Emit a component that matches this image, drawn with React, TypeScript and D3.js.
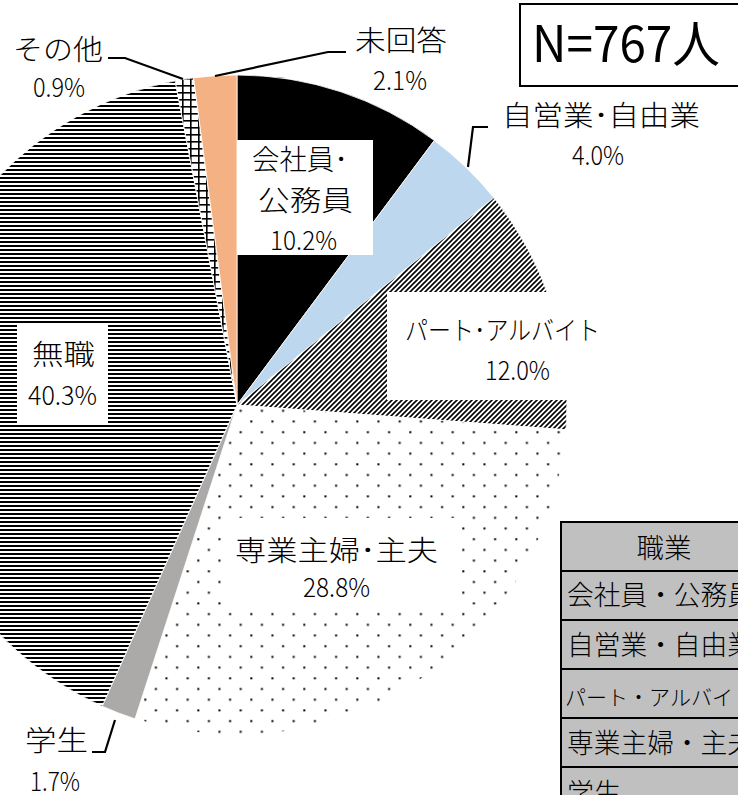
import React from 'react';
import * as d3 from 'd3';

// ---- data ----
const categories = ['会社員・公務員', '自営業・自由業', 'パート・アルバイト', '専業主婦・主夫', '学生', '無職', 'その他', '未回答'];
const shares = [10.2, 4.0, 12.0, 28.8, 1.7, 40.3, 0.9, 2.1];
const percentLabels = ['10.2%', '4.0%', '12.0%', '28.8%', '1.7%', '40.3%', '0.9%', '2.1%'];
const labelLines = [['会社員･', '公務員'], ['自営業･自由業'], ['パート･アルバイト'], ['専業主婦･主夫'], ['学生'], ['無職'], ['その他'], ['未回答']];
const tableHeader = '職業';
const tableRows = ['会社員・公務員', '自営業・自由業', 'パート・アルバイト', '専業主婦・主夫', '学生'];
const totalLabel = 'N=767人';

// ---- styling / layout ----
const W = 738, H = 795;
const CX = 237, CY = 405, R = 330;
const FONT = '"Noto Sans CJK JP", "Noto Sans", sans-serif';
const fills = ['#000000', '#bdd7ee', 'url(#hatch)', 'url(#dots)', '#aca9a9', 'url(#hlines)', 'url(#grid)', '#f4b183'];

type L = [number, number, number, number];
const labelLayout: { lines: L[]; pct: L; box?: [number, number, number, number]; leader?: [number, number][] }[] = [
  { lines: [[252, 170, 96, 28], [258, 211, 95, 28]], pct: [270, 250, 67, 26], box: [237, 140, 136, 115] },
  { lines: [[502, 126, 198, 28]], pct: [572, 165, 52, 26], leader: [[468, 167], [473, 127], [488, 127]] },
  { lines: [[405, 340, 195, 26]], pct: [485, 380, 65, 26], box: [387, 292, 220, 108] },
  { lines: [[235, 561, 203, 28]], pct: [303, 597, 67, 26], box: [222, 518, 233, 94] },
  { lines: [[25, 751, 63, 28]], pct: [30, 791, 50, 26], leader: [[115, 720], [105, 752], [92, 752]] },
  { lines: [[32, 365, 63, 28]], pct: [28, 405, 69, 26], box: [17, 323, 91, 102] },
  { lines: [[13, 60, 90, 28]], pct: [33, 97, 52, 26], leader: [[108, 58], [125, 58], [183, 79]] },
  { lines: [[355, 51, 92, 28]], pct: [373, 90, 54, 26], leader: [[215, 76], [328, 52], [346, 52]] },
];

const tableX = 561, tableY = 522, rowH = 49, tableW = 210;
const tableTextLayout: [number, number, number, number][] = [
  [567, 605, 187, 27],
  [567, 655, 187, 27],
  [565, 705, 189, 21],
  [567, 753, 187, 27],
  [567, 803, 54, 27],
];

function T({ s, l, anchor }: { s: string; l: L; anchor?: string }) {
  return (
    <text x={l[0]} y={l[1]} textLength={l[2]} lengthAdjust="spacingAndGlyphs"
      fontSize={l[3]} fontFamily={FONT} fontWeight={300} fill="#000" textAnchor={anchor || 'start'}>{s}</text>
  );
}

export default function App() {
  const pie = d3.pie<number>().sort(null).value((d) => d).startAngle(0).endAngle(2 * Math.PI);
  const arcs = pie(shares);
  const arc = d3.arc<d3.PieArcDatum<number>>().innerRadius(0).outerRadius(R);
  const lineGen = d3.line();

  return (
    <svg width={W} height={H} viewBox={`0 0 ${W} ${H}`}
      style={{ position: 'absolute', left: 0, top: 0, background: '#fff', overflow: 'hidden' }}>
      <defs>
        <pattern id="hatch" patternUnits="userSpaceOnUse" width={5} height={5}>
          <rect width={5} height={5} fill="#fff" />
          <path d="M-1,1 L1,-1 M0,5 L5,0 M4,6 L6,4" stroke="#000" strokeWidth={1.6} />
        </pattern>
        <pattern id="dots" patternUnits="userSpaceOnUse" x={384} y={432.5} width={21.2} height={21.4}>
          <rect width={21.2} height={21.4} fill="#fff" />
          <rect x={0.3} y={0.3} width={2} height={2} fill="#000" />
          <rect x={10.9} y={11} width={2} height={2} fill="#000" />
        </pattern>
        <pattern id="hlines" patternUnits="userSpaceOnUse" width={10} height={4}>
          <rect width={10} height={4} fill="#fff" />
          <rect y={0} width={10} height={2} fill="#000" />
        </pattern>
        <pattern id="grid" patternUnits="userSpaceOnUse" x={1} y={2} width={8} height={7}>
          <rect width={8} height={7} fill="#fff" />
          <rect x={0} y={0} width={1.6} height={7} fill="#000" />
          <rect x={0} y={0} width={8} height={1.6} fill="#000" />
        </pattern>
      </defs>

      <g transform={`translate(${CX},${CY})`}>
        {arcs.map((a, i) => (
          <path key={categories[i]} d={arc(a) || ''} fill={fills[i]} stroke="#fff" strokeWidth={0.8} />
        ))}
      </g>

      {labelLayout.map((lay, i) => (
        <g key={'lab' + i}>
          {lay.box && <rect x={lay.box[0]} y={lay.box[1]} width={lay.box[2]} height={lay.box[3]} fill="#fff" />}
          {lay.leader && <path d={lineGen(lay.leader) || ''} fill="none" stroke="#000" strokeWidth={2.2} />}
          {labelLines[i].map((s, j) => <T key={j} s={s} l={lay.lines[j]} />)}
          <T s={percentLabels[i]} l={lay.pct} />
        </g>
      ))}

      {/* N box */}
      <rect x={520} y={4} width={240} height={82} fill="#fff" stroke="#000" strokeWidth={2} />
      <text x={532} y={62} textLength={188} lengthAdjust="spacingAndGlyphs" fontSize={50}
        fontFamily={FONT} fill="#000">{totalLabel}</text>

      {/* table */}
      <g>
        <rect x={tableX} y={tableY} width={tableW} height={rowH * (tableRows.length + 1) + 20} fill="#c0c0c0" stroke="#000" strokeWidth={2} />
        {d3.range(1, tableRows.length + 1).map((k) => (
          <line key={'rl' + k} x1={tableX} x2={tableX + tableW} y1={tableY + k * rowH} y2={tableY + k * rowH} stroke="#000" strokeWidth={2} />
        ))}
        <text x={664} y={558} textLength={55} lengthAdjust="spacingAndGlyphs" fontSize={27}
          fontFamily={FONT} fontWeight={300} textAnchor="middle" fill="#000">{tableHeader}</text>
        {tableRows.map((s, i) => (
          <T key={'tr' + i} s={s} l={tableTextLayout[i]} />
        ))}
      </g>
    </svg>
  );
}
